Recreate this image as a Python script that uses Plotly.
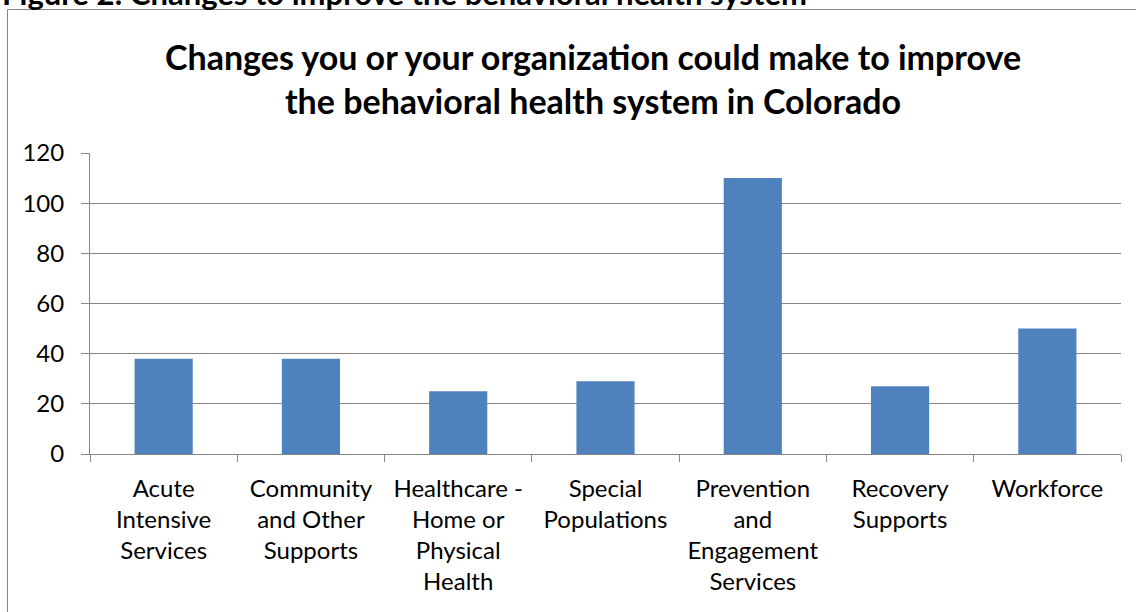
import plotly.graph_objects as go

# Survey responses by area of change
categories = [
    "Acute<br>Intensive<br>Services",
    "Community<br>and Other<br>Supports",
    "Healthcare -<br>Home or<br>Physical<br>Health",
    "Special<br>Populations",
    "Prevention<br>and<br>Engagement<br>Services",
    "Recovery<br>Supports",
    "Workforce",
]
responses = [38, 38, 25, 29, 110, 27, 50]
y_ticks = [0, 20, 40, 60, 80, 100, 120]

W, H = 1136, 612
L, R, T, B = 90, 15, 153, 158
pw, ph = W - L - R, H - T - B

def px_x(x):
    return (x - L) / pw

def px_y(y):
    return 1 - (y - T) / ph

FONT = "Lato"
GRID = "#868686"

fig = go.Figure(
    go.Bar(
        x=categories,
        y=responses,
        marker=dict(color="#4F81BD", line=dict(width=0)),
    )
)

fig.update_layout(
    width=W,
    height=H,
    margin=dict(l=L, r=R, t=T, b=B),
    paper_bgcolor="white",
    plot_bgcolor="white",
    bargap=0.605,
    showlegend=False,
    font=dict(family=FONT, size=24, color="black"),
)

fig.update_yaxes(
    range=[0, 120],
    tickvals=y_ticks,
    showgrid=True,
    gridcolor=GRID,
    gridwidth=1,
    showline=True,
    linecolor=GRID,
    linewidth=1,
    ticks="outside",
    ticklen=8,
    tickcolor=GRID,
    ticklabelstandoff=12,
    zeroline=False,
    tickfont=dict(size=24, family=FONT, color="black"),
)

fig.update_xaxes(
    showgrid=False,
    showline=True,
    linecolor=GRID,
    linewidth=1,
    ticks="outside",
    tickson="boundaries",
    ticklen=7,
    tickcolor=GRID,
    tickangle=0,
    ticklabelstandoff=13,
    tickfont=dict(size=24, family=FONT, color="black"),
)

# Chart title
fig.add_annotation(
    text="<b>Changes you or your organization could make to improve<br>the behavioral health system in Colorado</b>",
    xref="paper", yref="paper",
    x=px_x(593), y=px_y(78),
    xanchor="center", yanchor="middle",
    showarrow=False,
    font=dict(size=34, family=FONT, color="black"),
    align="center",
)

# Figure caption above the chart frame
fig.add_annotation(
    text="<b>Figure 2: Changes to improve the behavioral health system</b>",
    xref="paper", yref="paper",
    x=px_x(0), y=px_y(-7),
    xanchor="left", yanchor="middle",
    showarrow=False,
    font=dict(size=31, family=FONT, color="black"),
)

# Chart frame
fig.add_shape(
    type="rect",
    xref="paper", yref="paper",
    x0=px_x(7.5), x1=px_x(1145),
    y0=px_y(9.5), y1=px_y(630),
    line=dict(color=GRID, width=1),
    fillcolor="rgba(0,0,0,0)",
    layer="below",
)

fig.write_html("out.html")
